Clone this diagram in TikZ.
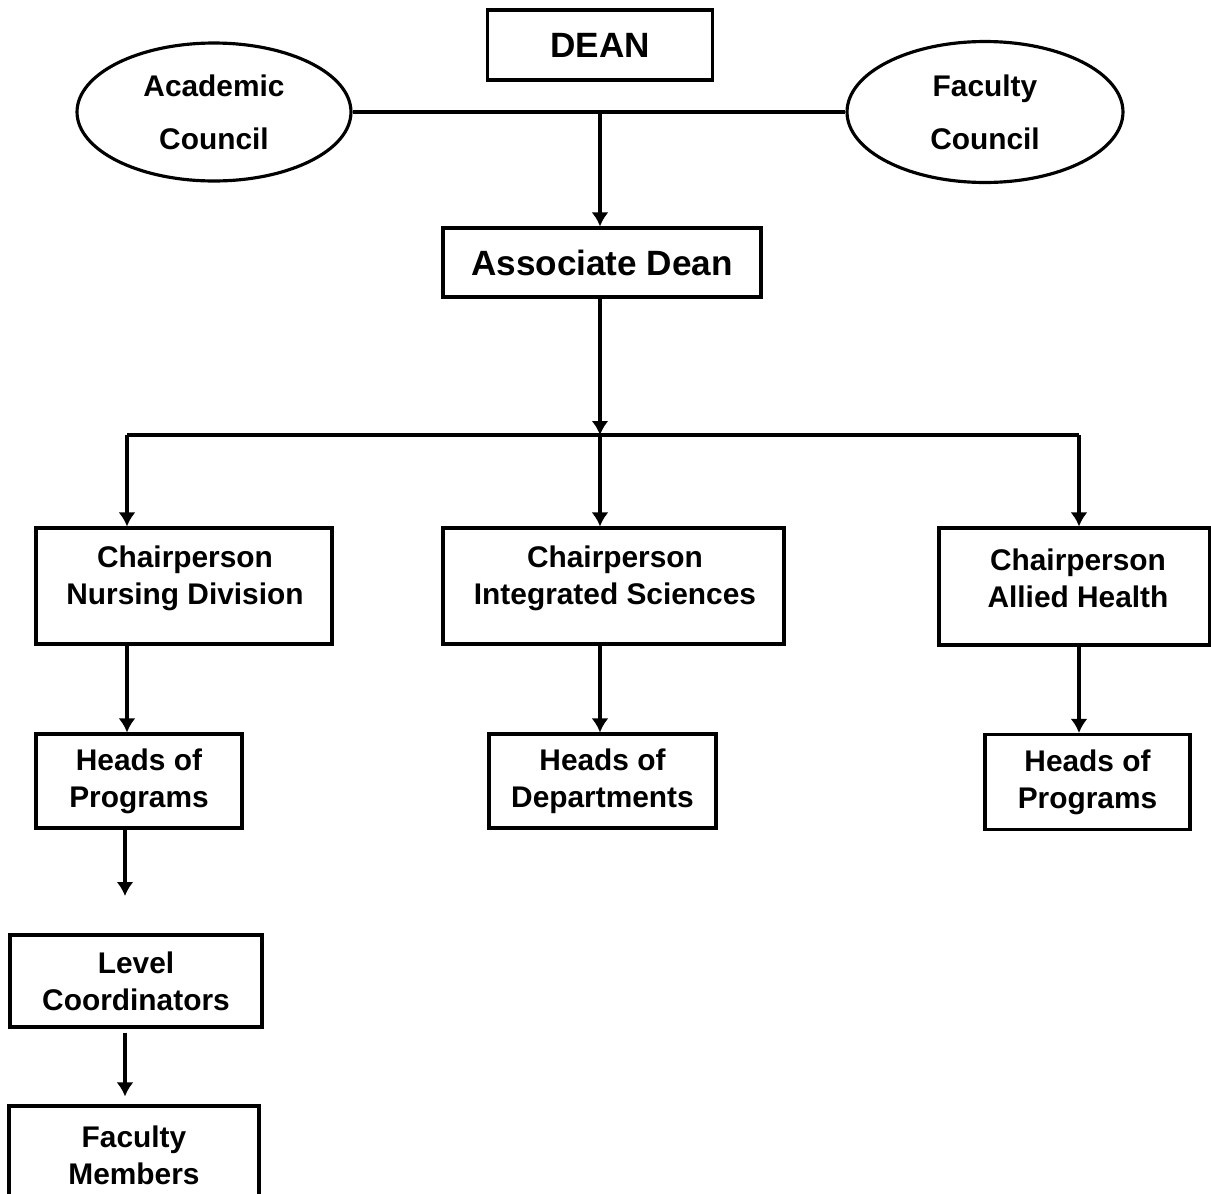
\documentclass[tikz,border=0pt]{standalone}
\usepackage{fontspec}
\setmainfont{Liberation Sans}
\usetikzlibrary{shapes.geometric,arrows.meta}
\tikzset{>={Latex[length=2.8mm,width=3.4mm]}}
\tikzset{
	unit/.style={draw, line width=1.8pt, align=center, inner sep=0pt, font=\bfseries\fontsize{17}{21}\selectfont},
	label text/.style={align=center, inner sep=0pt, font=\bfseries\fontsize{17}{21}\selectfont},
	council/.style={unit, ellipse, font=\bfseries\fontsize{17}{30}\selectfont},
	top/.style={unit, font=\bfseries\fontsize{20}{24}\selectfont},
	link/.style={line width=1.8pt}
}

\begin{document}
\begin{tikzpicture}[x=0.02cm,y=-0.02cm]
	\useasboundingbox (0,0) rectangle (1211,1194);

	\node[top, minimum width=4.5cm, minimum height=1.4cm] (dean) at (600,45) {DEAN};
	\node[council, minimum width=5.48cm, minimum height=2.76cm] (acad) at (214,112) {Academic\\Council};
	\node[council, minimum width=5.52cm, minimum height=2.82cm] (facc) at (985,112) {Faculty\\Council};
	\node[top, minimum width=6.36cm, minimum height=1.38cm] (assoc) at (602,262.5) {Associate Dean};

	\node[unit, minimum width=5.92cm, minimum height=2.32cm] (chn) at (184,586) {};
	\node[unit, minimum width=6.82cm, minimum height=2.32cm] (chis) at (613.5,586) {};
	\node[unit, minimum width=5.42cm, minimum height=2.34cm] (chah) at (1074.5,586.5) {};
	\node[label text] (chn-t) at (185,578) {Chairperson\\Nursing Division};
	\node[label text] (chis-t) at (615,578) {Chairperson\\Integrated Sciences};
	\node[label text] (chah-t) at (1078,578) {Chairperson\\Allied Health};

	\node[unit, minimum width=4.12cm, minimum height=1.88cm] (hpl) at (139,781) {Heads of\\Programs};
	\node[unit, minimum width=4.54cm, minimum height=1.88cm] (hdep) at (602.5,781) {Heads of\\Departments};
	\node[unit, minimum width=4.1cm, minimum height=1.9cm] (hpr) at (1087.5,782) {Heads of\\Programs};

	\node[unit, minimum width=5.04cm, minimum height=1.84cm] (level) at (136,981) {Level\\Coordinators};
	\node[unit, minimum width=5cm, minimum height=1.96cm] (facm) at (134,1155) {Faculty\\Members};

	\coordinate (jc) at (600,112);
	\coordinate (split) at (600,435);
	\coordinate (sl) at (127,435);
	\coordinate (sr) at (1079,435);
	\coordinate (tip) at (125,896);

	\draw[link] (acad.east) -- (facc.west);
	\draw[link,->] (jc) -- (jc |- assoc.north);
	\draw[link,->] (split |- assoc.south) -- (split);
	\draw[link] (sl) -- (sr);

	\draw[link,->] (sl) -- (sl |- chn.north);
	\draw[link,->] (split) -- (split |- chis.north);
	\draw[link,->] (sr) -- (sr |- chah.north);

	\draw[link,->] (sl |- chn.south) -- (sl |- hpl.north);
	\draw[link,->] (split |- chis.south) -- (split |- hdep.north);
	\draw[link,->] (sr |- chah.south) -- (sr |- hpr.north);

	\draw[link,->] (tip |- hpl.south) -- (tip);
	\draw[link,->,shorten <=0.08cm,shorten >=0.16cm] (tip |- level.south) -- (tip |- facm.north);
\end{tikzpicture}
\end{document}
